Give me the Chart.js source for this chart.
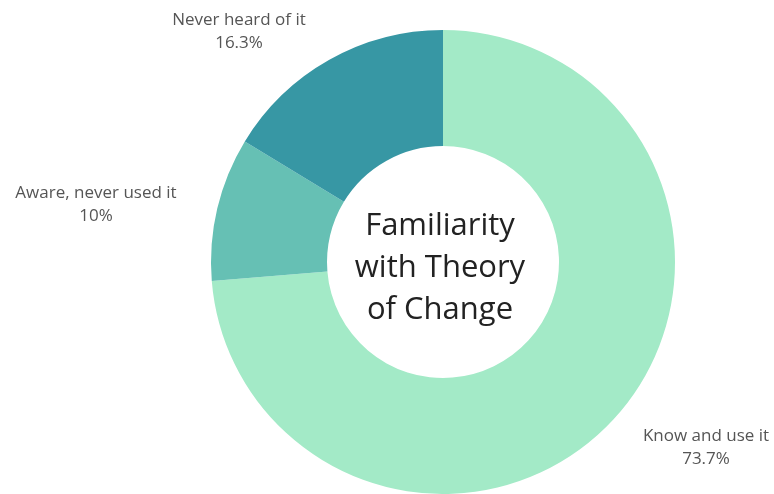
<!DOCTYPE html>
<html>
<head>
<meta charset="utf-8">
<script src="https://cdn.jsdelivr.net/npm/chart.js@4.4.1/dist/chart.umd.min.js"></script>
<style>
html,body{margin:0;padding:0;background:#fff;}
#wrap{width:774px;height:494px;position:relative;}
</style>
</head>
<body>
<div id="wrap"><canvas id="c" width="774" height="494"></canvas></div>
<script>
const categories = ["Know and use it", "Aware, never used it", "Never heard of it"];
const values = [73.7, 10, 16.3];
const valueLabels = ["73.7%", "10%", "16.3%"];
const colors = ["#a3eac7", "#66c0b4", "#3797a4"];
const centerLines = ["Familiarity", "with Theory", "of Change"];

const labelPlugin = {
  id: 'outerLabels',
  afterDatasetsDraw(chart, args, opts) {
    const ctx = chart.ctx;
    ctx.save();
    ctx.font = opts.font;
    ctx.fillStyle = opts.color;
    ctx.textAlign = 'center';
    ctx.textBaseline = 'middle';
    chart.data.labels.forEach((lab, i) => {
      const p = opts.positions[i];
      ctx.fillText(lab, p[0], p[1]);
      ctx.fillText(valueLabels[i], p[0], p[1] + opts.lineGap);
    });
    // center text
    const arc = chart.getDatasetMeta(0).data[0];
    ctx.font = opts.centerFont;
    ctx.fillStyle = opts.centerColor;
    const n = centerLines.length;
    centerLines.forEach((t, k) => {
      ctx.fillText(t, arc.x - 3, arc.y + (k - (n - 1) / 2) * opts.centerGap + 6);
    });
    ctx.restore();
  }
};

new Chart(document.getElementById('c'), {
  type: 'doughnut',
  data: {
    labels: categories,
    datasets: [{
      data: values,
      backgroundColor: colors,
      borderWidth: 0,
      hoverOffset: 0
    }]
  },
  options: {
    responsive: false,
    animation: false,
    cutout: '50%',
    layout: { padding: { left: 210, right: 98, top: 30, bottom: 0 } },
    plugins: {
      legend: { display: false },
      tooltip: { enabled: false },
      outerLabels: {
        font: '17px "Open Sans", sans-serif',
        color: '#555555',
        lineGap: 23,
        positions: [[706, 436], [96, 193], [239, 20]],
        centerFont: '31px "Open Sans", sans-serif',
        centerColor: '#222222',
        centerGap: 42
      }
    }
  },
  plugins: [labelPlugin]
});
</script>
</body>
</html>
